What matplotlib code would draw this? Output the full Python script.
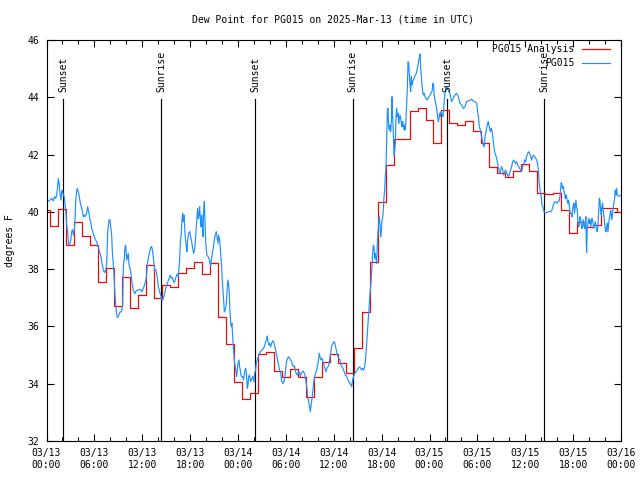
import matplotlib
matplotlib.use("Agg")
import matplotlib.pyplot as plt
from matplotlib.ticker import NullFormatter

# ---------------- data ----------------
title = "Dew Point for PG015 on 2025-Mar-13 (time in UTC)"
ylabel = "degrees F"
xtick_labels = ["03/13\n00:00", "03/13\n06:00", "03/13\n12:00", "03/13\n18:00",
                "03/14\n00:00", "03/14\n06:00", "03/14\n12:00", "03/14\n18:00",
                "03/15\n00:00", "03/15\n06:00", "03/15\n12:00", "03/15\n18:00",
                "03/16\n00:00"]
xtick_hours = [0, 6, 12, 18, 24, 30, 36, 42, 48, 54, 60, 66, 72]
ytick_vals = [32, 34, 36, 38, 40, 42, 44, 46]

# sun events (hours since 03/13 00:00 UTC)
sun_hours = [2.10, 14.40, 26.15, 38.35, 50.20, 62.35]
sun_labels = ["Sunset", "Sunrise", "Sunset", "Sunrise", "Sunset", "Sunrise"]

# hourly analysis (PG015 Analysis), hour 0..72
analysis_hours = list(range(73))
analysis_vals = [40.05, 39.50, 40.10, 38.85, 39.63, 39.17, 38.83, 37.56, 38.04, 36.72,
                 37.71, 36.64, 37.09, 38.13, 36.98, 37.45, 37.39, 37.88, 38.03, 38.24,
                 37.83, 38.22, 36.33, 35.37, 34.07, 33.45, 33.66, 35.02, 35.09, 34.44,
                 34.24, 34.53, 34.22, 33.52, 34.24, 34.77, 35.02, 34.74, 34.36, 35.23,
                 36.51, 38.26, 40.33, 41.63, 42.53, 42.53, 43.52, 43.62, 43.21, 42.39,
                 43.55, 43.09, 43.03, 43.18, 42.83, 42.41, 41.55, 41.37, 41.23, 41.43,
                 41.67, 41.43, 40.67, 40.62, 40.65, 40.06, 39.27, 39.63, 39.48, 39.53,
                 40.12, 40.12, 40.00]

# station observations (PG015)
obs_hours = [
    0.02, 0.15, 0.44, 0.65, 0.86, 0.98, 1.15, 1.27, 1.40, 1.48, 1.61, 1.69, 1.82, 1.90, 1.98,
    2.11, 2.23, 2.32, 2.44, 2.53, 2.65, 2.74, 2.86, 2.94, 3.07, 3.15, 3.28, 3.36, 3.49, 3.57,
    3.66, 3.78, 3.86, 3.99, 4.11, 4.24, 4.41, 4.53, 4.62, 4.74, 4.82, 4.91, 5.03, 5.16, 5.24,
    5.33, 5.45, 5.58, 5.66, 5.79, 5.91, 6.08, 6.29, 6.41, 6.62, 6.70, 6.83, 6.91, 7.04, 7.12,
    7.25, 7.33, 7.46, 7.54, 7.67, 7.75, 7.83, 7.96, 8.04, 8.17, 8.25, 8.38, 8.46, 8.58, 8.67,
    8.79, 8.88, 9.00, 9.09, 9.21, 9.34, 9.42, 9.55, 9.63, 9.75, 9.84, 9.92, 10.05, 10.13, 10.25,
    10.34, 10.46, 10.59, 10.67, 10.76, 10.88, 11.00, 11.09, 11.22, 11.42, 11.63, 11.84, 11.93,
    12.05, 12.13, 12.26, 12.34, 12.47, 12.55,
    12.63, 12.76, 12.93, 13.05, 13.18, 13.30, 13.43, 13.55, 13.68, 13.76, 13.89, 14.01, 14.18,
    14.30, 14.43, 14.51, 14.64, 14.76, 14.89, 15.01, 15.14, 15.26, 15.39, 15.52, 15.64, 15.77,
    15.89, 16.02, 16.14, 16.27, 16.39, 16.52, 16.60, 16.68, 16.77, 16.89, 16.98, 17.06, 17.14,
    17.23, 17.31, 17.39, 17.52, 17.60, 17.69, 17.81, 17.94, 18.06, 18.19, 18.31, 18.44, 18.56,
    18.69, 18.77, 18.86, 18.94, 19.02, 19.11, 19.19, 19.27, 19.36, 19.44, 19.53, 19.61, 19.69,
    19.78, 19.86, 19.94, 20.03, 20.11, 20.24, 20.36, 20.44, 20.57, 20.65, 20.78, 20.90, 21.03,
    21.15, 21.28, 21.36, 21.49, 21.57, 21.70, 21.82, 21.91, 22.03, 22.12, 22.20, 22.28, 22.41,
    22.49, 22.57, 22.66, 22.74, 22.83, 22.91, 22.99, 23.08, 23.16, 23.24, 23.33, 23.41, 23.49,
    23.58, 23.66, 23.74, 23.83, 23.91, 24.00, 24.12, 24.20, 24.29, 24.37, 24.45, 24.58, 24.70,
    24.83,
    24.95, 25.04, 25.16, 25.25, 25.33, 25.46, 25.58, 25.66, 25.87, 26.00, 26.08, 26.21, 26.29,
    26.42, 26.54, 26.71, 26.83, 26.96, 27.13, 27.29, 27.42, 27.54, 27.67, 27.75, 27.88, 27.96,
    28.09, 28.21, 28.34, 28.46, 28.59, 28.71, 28.84, 28.96, 29.09, 29.21, 29.34, 29.42, 29.55,
    29.63, 29.76, 29.88, 29.97, 30.09, 30.22, 30.34, 30.47, 30.59, 30.72, 30.84, 30.97, 31.09,
    31.22, 31.30, 31.43, 31.55, 31.68, 31.81, 31.93, 32.06, 32.18, 32.31, 32.43, 32.56, 32.64,
    32.72, 32.81, 32.89, 32.97, 33.06, 33.14, 33.22, 33.31, 33.39, 33.48, 33.60, 33.73, 33.85,
    33.98, 34.10, 34.19, 34.27, 34.40, 34.52, 34.65, 34.77, 34.90, 35.02, 35.15, 35.27, 35.40,
    35.48, 35.61, 35.73, 35.90, 36.03, 36.15, 36.28, 36.40, 36.53, 36.65, 36.78, 36.90, 37.03,
    37.15, 37.24, 37.36, 37.49, 37.61,
    37.79, 38.04, 38.25, 38.37, 38.62, 38.83, 39.08, 39.25, 39.37, 39.50, 39.62, 39.75, 39.87,
    39.96, 40.04, 40.13, 40.21, 40.29, 40.38, 40.46, 40.54, 40.63, 40.71, 40.79, 40.88, 40.96,
    41.04, 41.13, 41.21, 41.30, 41.38, 41.46, 41.55, 41.63, 41.71, 41.80, 41.88, 41.96, 42.05,
    42.13, 42.21, 42.30, 42.38, 42.46, 42.55, 42.63, 42.72, 42.80, 42.88, 42.97, 43.05, 43.13,
    43.22, 43.30, 43.38, 43.47, 43.55, 43.63, 43.72, 43.80, 43.89, 43.97, 44.05, 44.14, 44.22,
    44.30, 44.39, 44.47, 44.55, 44.64, 44.72, 44.80, 44.89, 44.97, 45.05, 45.14, 45.22, 45.31,
    45.39, 45.47, 45.56, 45.64, 45.72, 45.81, 45.89, 45.97, 46.06, 46.14, 46.22, 46.31, 46.39,
    46.48, 46.56, 46.64, 46.73, 46.81, 46.89, 46.98, 47.06, 47.14, 47.23, 47.31, 47.44, 47.56,
    47.69, 47.81, 47.94, 48.07, 48.19, 48.31, 48.44, 48.52, 48.61, 48.69, 48.77, 48.86, 48.94,
    49.02, 49.11, 49.19, 49.27, 49.36, 49.44, 49.52, 49.61, 49.69, 49.77, 49.86, 49.94, 50.03,
    50.11,
    50.35, 50.56, 50.77, 50.98, 51.19, 51.40, 51.61, 51.82, 52.03, 52.23, 52.44, 52.65, 52.86,
    53.07, 53.28, 53.49, 53.70, 53.91, 54.03, 54.16,
    54.24, 54.37, 54.49, 54.62, 54.74, 54.87, 54.95, 55.04, 55.16, 55.29, 55.37, 55.50, 55.62,
    55.75, 55.87, 55.96, 56.04, 56.16, 56.29, 56.42, 56.54, 56.67, 56.79, 56.92, 57.04, 57.17,
    57.29, 57.42, 57.54, 57.67, 57.79, 57.92, 58.04, 58.17, 58.29, 58.42, 58.55, 58.67, 58.80,
    58.92, 59.05, 59.17, 59.30, 59.42, 59.55, 59.67, 59.80, 59.92, 60.05, 60.17, 60.30, 60.43,
    60.55, 60.68, 60.80, 60.93, 61.05, 61.18, 61.30, 61.43, 61.55, 61.64, 61.72, 61.80, 61.89,
    62.00,
    62.09, 62.22, 62.34, 62.47, 62.72, 62.97, 63.22, 63.34, 63.47, 63.59, 63.72, 63.97, 64.10,
    64.22, 64.35, 64.43, 64.51, 64.60, 64.68, 64.76, 64.85, 64.93, 65.01, 65.10, 65.18, 65.27,
    65.35, 65.43, 65.52, 65.60, 65.68, 65.77, 65.85, 65.93, 66.02, 66.10, 66.18, 66.27, 66.35,
    66.43, 66.52, 66.60, 66.69, 66.77, 66.85, 66.94, 67.02, 67.10, 67.19, 67.27, 67.35, 67.44,
    67.52, 67.60, 67.65, 67.69, 67.73, 67.77, 67.86, 67.94, 68.02, 68.11, 68.19, 68.27, 68.36,
    68.44, 68.52, 68.61, 68.69, 68.77, 68.86, 68.94, 69.02, 69.11, 69.19, 69.28, 69.36, 69.44,
    69.53, 69.61, 69.69, 69.78, 69.86, 69.94, 70.03, 70.11, 70.19, 70.28, 70.36, 70.45, 70.53,
    70.61, 70.70, 70.78, 70.86, 70.95, 71.03, 71.11, 71.20, 71.28, 71.36, 71.45, 71.53, 71.61,
    71.78, 71.99]

obs_vals = [
    40.06, 40.36, 40.41, 40.47, 40.38, 40.53, 40.47, 40.59, 40.88, 41.17, 40.94, 40.65, 40.41, 40.70, 40.76,
    40.59, 40.53, 40.30, 39.95, 39.54, 39.31, 38.90, 38.84, 38.90, 39.07, 39.31, 39.37, 39.19, 39.37, 39.72,
    40.36, 40.73, 40.82, 40.70, 40.53, 40.30, 40.12, 39.95, 39.83, 39.89, 39.83, 39.89, 39.95, 40.18, 40.07,
    39.95, 39.72, 39.60, 39.42, 39.31, 39.19, 39.07, 38.94, 38.84, 38.63, 38.55, 38.43, 38.26, 38.09, 37.97,
    37.89, 37.89, 38.03, 38.14, 39.31, 39.48, 39.72, 39.72, 39.48, 39.19, 38.61, 38.14, 37.79, 37.10, 36.81,
    36.40, 36.31, 36.34, 36.42, 36.49, 36.52, 36.54, 36.75, 38.09, 38.38, 38.78, 38.84, 38.32, 38.43, 38.55,
    38.14, 38.03, 37.85, 37.62, 37.45, 37.27, 37.18, 37.15, 37.24, 37.27, 37.29, 37.27, 37.21,
    37.29, 37.33, 37.42, 37.50, 37.64, 37.81,
    38.14, 38.38, 38.61, 38.76, 38.79, 38.61, 38.32, 37.97, 37.99, 37.91, 37.68, 37.39, 37.21,
    37.10, 36.98, 36.90, 36.98, 37.10, 37.27, 37.39, 37.50, 37.60, 37.71, 37.79, 37.68, 37.71,
    37.60, 37.53, 37.64, 37.76, 37.83, 37.74, 38.03, 38.32, 38.90, 39.25, 39.71, 39.95, 39.66,
    39.89, 39.54, 39.13, 38.78, 38.61, 39.02, 39.25, 39.31, 39.13, 38.96, 38.73, 38.55, 38.67,
    39.08, 39.48, 39.83, 40.12, 39.77, 39.89, 40.18, 39.77, 39.48, 39.89, 39.60, 39.13, 40.06,
    40.36, 39.72, 39.02, 38.67, 38.49, 38.44, 38.38, 38.26, 38.11, 38.32, 38.55, 38.73, 39.02,
    39.19, 39.31, 39.13, 38.90, 39.19, 39.02, 38.61, 38.26, 37.62, 37.27, 36.92, 36.51, 36.57,
    36.69, 36.92, 37.39, 37.62, 37.45, 37.15, 36.57, 36.11, 35.99, 36.11, 35.64, 35.29, 35.00,
    34.71, 34.59, 34.42, 34.25, 34.48, 34.71, 34.83, 34.59, 34.48, 34.30, 34.25, 34.25, 34.13,
    34.42,
    34.54, 34.42, 33.84, 33.95, 34.25, 34.30, 34.07, 34.13, 34.25, 34.07, 34.36, 34.48, 34.71,
    34.83, 34.94, 35.06, 35.12, 35.18, 35.20, 35.29, 35.41, 35.53, 35.67, 35.47, 35.35, 35.41,
    35.29, 35.41, 35.50, 35.47, 35.32, 35.18, 35.00, 34.83, 34.65, 34.48, 34.42, 34.19, 34.04,
    34.01, 34.07, 34.25, 34.54, 34.77, 34.89, 34.94, 34.89, 34.83, 34.77, 34.65, 34.59, 34.62,
    34.42, 34.36, 34.30, 34.38, 34.42, 34.25, 34.36, 34.42, 34.44, 34.36, 34.25, 34.01, 33.84,
    33.60, 33.43, 33.31, 33.20, 33.02, 33.20, 33.37, 33.55, 33.78, 34.01, 34.25, 34.36, 34.48,
    34.65, 34.83, 35.06, 34.94, 34.83, 34.89, 34.77, 34.65, 34.54, 34.42, 34.54, 34.59, 34.65,
    34.83, 35.06, 35.29, 35.41, 35.47, 35.41, 35.23, 35.06, 34.94, 34.89, 34.83, 34.65, 34.59,
    34.54, 34.48, 34.36, 34.30, 34.27,
    34.13, 34.01, 33.90, 34.13, 34.36, 34.42, 34.54, 34.59, 34.54, 34.48, 34.54, 34.48, 34.59,
    34.77, 35.06, 35.41, 35.76, 36.11, 36.46, 36.81, 37.15, 37.39, 37.74, 38.09, 38.55, 38.84,
    38.79, 38.38, 38.55, 38.32, 38.20, 38.90, 39.31, 39.60, 39.83, 39.54, 39.13, 39.31, 39.72,
    39.77, 40.06, 40.53, 40.76, 41.23, 41.58, 42.57, 43.56, 43.62, 42.97, 42.86, 43.03, 42.80,
    43.15, 44.02, 43.32, 42.74, 41.93, 42.16, 42.39, 43.32, 43.62, 43.32, 43.44, 43.09, 43.27,
    43.38, 43.27, 43.09, 42.97, 43.15, 43.03, 42.86, 43.03, 42.86, 43.21, 43.79, 44.31, 45.24,
    45.19, 44.84, 44.43, 44.20, 44.72, 44.43, 44.55, 44.60, 44.66, 44.72, 44.78, 44.81, 44.89,
    45.01, 45.13, 45.30, 45.36, 45.51, 45.07, 44.72, 44.43, 44.20, 44.08, 44.14, 44.02, 43.96,
    43.91, 43.96, 44.02, 44.08, 44.14, 44.20, 44.49, 44.37, 44.02, 43.91, 43.79, 43.67, 43.50,
    43.32, 43.15, 43.27, 43.44, 43.32, 43.50, 43.44, 43.38, 43.32, 43.56, 43.91, 44.14, 44.26,
    44.37,
    44.25, 44.14, 43.85, 43.96, 44.08, 44.14, 44.02, 43.79, 43.73, 43.61, 43.67, 43.85, 43.87,
    43.90, 43.93, 43.87, 43.85, 43.79, 43.50, 43.26,
    42.97, 42.86, 42.68, 42.51, 42.33, 42.27, 42.62, 42.74, 42.92, 43.09, 43.15, 42.97, 42.80,
    42.92, 42.76, 42.57, 42.33, 42.10, 41.98, 41.87, 41.69, 41.52, 41.34, 41.46, 41.58, 41.46,
    41.29, 41.40, 41.46, 41.34, 41.29, 41.23, 41.34, 41.46, 41.58, 41.75, 41.81, 41.75, 41.69,
    41.75, 41.64, 41.58, 41.52, 41.46, 41.40, 41.58, 41.64, 41.81, 41.75, 41.93, 42.04, 42.10,
    42.04, 41.93, 41.81, 41.93, 41.98, 41.93, 41.87, 41.81, 41.69, 41.46, 41.11, 40.88, 40.70,
    40.53,
    40.24, 40.18, 40.01, 39.97, 39.98, 40.01, 40.01, 40.06, 40.18, 40.30, 40.36, 40.30, 40.36,
    40.36, 40.53, 40.76, 41.02, 40.94, 40.82, 40.88, 40.70, 40.65, 40.47, 40.59, 40.53, 40.36,
    40.30, 40.41, 40.24, 40.01, 39.95, 39.95, 39.83, 40.06, 40.24, 40.30, 39.95, 40.18, 40.41,
    40.18, 40.06, 39.66, 39.48, 39.60, 39.83, 39.77, 39.54, 39.42, 39.48, 39.72, 39.54, 39.42,
    39.60, 39.83, 38.96, 38.59, 39.02, 39.42, 39.60, 39.77, 39.60, 39.72, 39.48, 39.60, 39.77,
    39.72, 39.54, 39.42, 39.54, 39.66, 39.54, 39.37, 39.31, 39.48, 39.95, 40.47, 40.41, 40.06,
    39.89, 40.18, 40.30, 40.06, 39.83, 39.60, 39.37, 39.31, 39.42, 39.60, 39.31, 39.54, 39.77,
    39.83, 40.06, 39.95, 39.72, 39.95, 40.18, 40.30, 40.47, 40.76, 40.59, 40.82, 40.59, 40.55,
    40.55, 40.59]

# ---------------- figure ----------------
FONT = "DejaVu Sans Mono"
FS = 7
plt.rcParams["font.family"] = FONT
plt.rcParams["font.size"] = FS

fig = plt.figure(figsize=(6.4, 4.8), dpi=100)
L, R, T, B = 46.5, 621.0, 40.0, 441.0
ax = fig.add_axes([L / 640, 1 - B / 480, (R - L) / 640, (B - T) / 480])

ax.set_xlim(0, 72)
ax.set_ylim(32, 46)

LW = 0.85

# sunrise / sunset markers
for h, lab in zip(sun_hours, sun_labels):
    ax.axvline(h, ymin=0, ymax=0.853, color="black", lw=LW, zorder=1)
    ax.text(h, 0.870, lab, transform=ax.get_xaxis_transform(), rotation=90,
            ha="center", va="bottom", fontsize=FS, zorder=3)

ax.plot(analysis_hours, analysis_vals, drawstyle="steps-mid", color="#ff0000",
        lw=LW, zorder=2)
ax.plot(obs_hours, obs_vals, color="#1e8fff", lw=LW, zorder=2)

# legend (gnuplot style: right-justified text, sample to the right)
leg = [("PG015 Analysis", "#ff0000", 0.9768), ("PG015", "#1e8fff", 0.9434)]
for txt, col, yy in leg:
    ax.text(0.919, yy, txt, transform=ax.transAxes, ha="right", va="center",
            fontsize=FS, zorder=4)
    ax.plot([0.9316, 0.9809], [yy, yy], transform=ax.transAxes, color=col,
            lw=LW, clip_on=False, zorder=4)

# ticks
ax.set_xticks(xtick_hours)
ax.set_xticklabels(xtick_labels)
ax.set_xticks(list(range(0, 73, 2)), minor=True)
ax.xaxis.set_minor_formatter(NullFormatter())
ax.set_yticks(ytick_vals)
ax.set_yticklabels([str(v) for v in ytick_vals])
ax.tick_params(which="both", direction="in", top=True, right=True, width=0.8)
ax.tick_params(which="major", length=5)
ax.tick_params(which="minor", length=3)
ax.tick_params(axis="x", which="major", pad=5, labelsize=FS)
ax.tick_params(axis="y", which="major", pad=5, labelsize=FS)
for sp in ax.spines.values():
    sp.set_linewidth(0.8)

fig.text(333 / 640, 1 - 19 / 480, title, ha="center", va="center", fontsize=FS)
fig.text(10 / 640, 0.499, ylabel, rotation=90, ha="center", va="center", fontsize=FS)

fig.savefig("out.png", dpi=100)
